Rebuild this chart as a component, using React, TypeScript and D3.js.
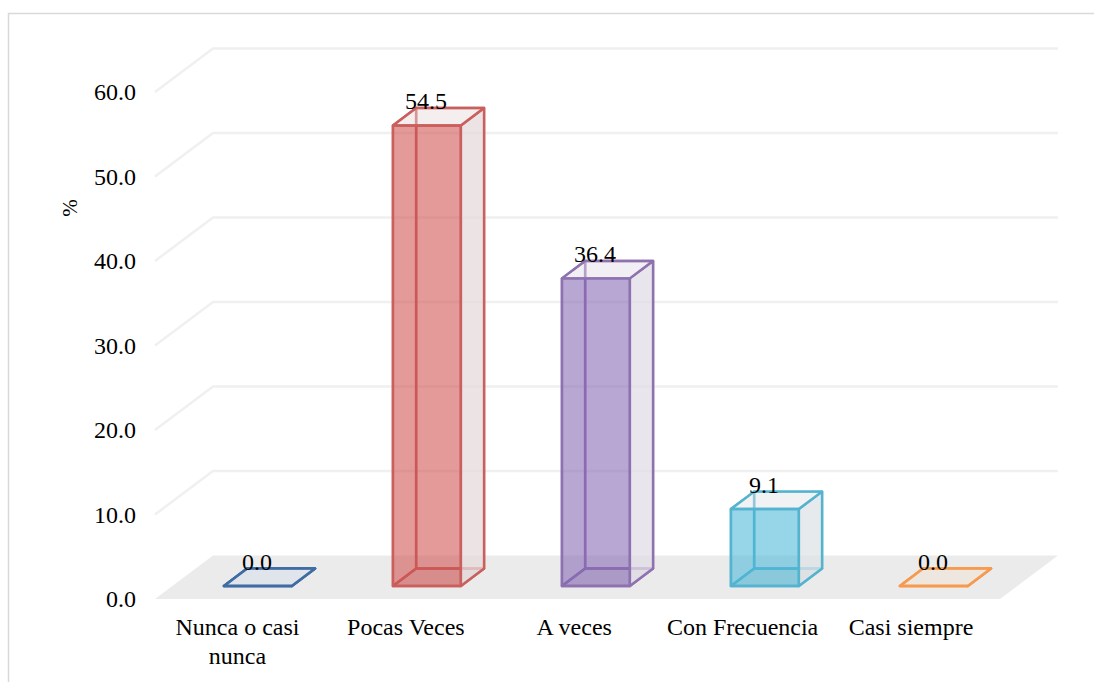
import React from "react";
import * as d3 from "d3";

const categories = ["Nunca o casi nunca", "Pocas Veces", "A veces", "Con Frecuencia", "Casi siempre"];
const categoryLines = [["Nunca o casi", "nunca"], ["Pocas Veces"], ["A veces"], ["Con Frecuencia"], ["Casi siempre"]];
const values = [0.0, 54.5, 36.4, 9.1, 0.0];
const strokeColors = ["#3f6da3", "#c9605e", "#8e72b0", "#54b3cf", "#f79a4f"];
const fillColors = ["#4f81bd", "#cf514f", "#8566b3", "#4cb7d7", "#f79646"];
const sideTints = ["#dfe3ec", "#e6dadb", "#e2dce6", "#dde3e6", "#eee6dd"];
const tickValues = [0, 10, 20, 30, 40, 50, 60];

const W = 1094;
const H = 682;
const FONT = "'Liberation Serif', 'Times New Roman', serif";
const FONT_SIZE = 24;

// oblique projection of the 3D plot box: depth 0 is the front edge of the floor, depth 1 the back wall
const DEPTH_X = 58;
const DEPTH_Y = -43.5;
const BAR_DEPTH_FRONT = 0.3;
const BAR_DEPTH_BACK = 0.7;
const FLOOR_LEFT = 155;
const FLOOR_RIGHT = 1000;

const x = d3.scaleBand<string>().domain(categories).range([FLOOR_LEFT + 1, FLOOR_RIGHT + 1]).paddingInner(0.598).paddingOuter(0.299);
const y = d3.scaleLinear().domain([0, 60]).range([599, 92]);
// category captions sit left of the bars, on a slightly tighter spacing
const captionX = d3.scalePoint<string>().domain(categories).range([237.5, 911]);

const project = (px: number, value: number, depth: number): [number, number] => [
  px + DEPTH_X * depth,
  y(value) + DEPTH_Y * depth,
];
const poly = (pts: [number, number][]) => d3.line()(pts) + "Z";

function Bar({ index }: { index: number }) {
  const cat = categories[index];
  const value = values[index];
  const color = strokeColors[index];
  const x0 = x(cat)!;
  const x1 = x0 + x.bandwidth();
  const f = BAR_DEPTH_FRONT;
  const b = BAR_DEPTH_BACK;
  const faces = {
    back: [project(x0, 0, b), project(x1, 0, b), project(x1, value, b), project(x0, value, b)],
    left: [project(x0, 0, f), project(x0, 0, b), project(x0, value, b), project(x0, value, f)],
    bottom: [project(x0, 0, f), project(x1, 0, f), project(x1, 0, b), project(x0, 0, b)],
    right: [project(x1, 0, f), project(x1, 0, b), project(x1, value, b), project(x1, value, f)],
    top: [project(x0, value, f), project(x1, value, f), project(x1, value, b), project(x0, value, b)],
    front: [project(x0, 0, f), project(x1, 0, f), project(x1, value, f), project(x0, value, f)],
  };
  const [lx, ly] = project((x0 + x1) / 2, value, b);
  const edge = { stroke: color, strokeWidth: 2.4, strokeLinejoin: "round" as const };
  const tall = value > 0;
  return (
    <g>
      <path d={poly(faces.back)} fill="#ffffff" fillOpacity={0} {...edge} />
      <path d={poly(faces.left)} fill="none" {...edge} />
      <path d={poly(faces.bottom)} fill={tall ? "#8a8a96" : sideTints[index]} fillOpacity={tall ? 0.12 : 0.8} {...edge} />
      <path d={poly(faces.right)} fill={sideTints[index]} fillOpacity={0.75} {...edge} />
      <path d={poly(faces.top)} fill={sideTints[index]} fillOpacity={0.45} {...edge} />
      <path d={poly(faces.front)} fill={fillColors[index]} fillOpacity={tall ? 0.58 : 0} {...edge} />
      <text x={lx - DEPTH_X * (b - f) - 1} y={ly + 1} textAnchor="middle" fontSize={FONT_SIZE} fill="#000">
        {d3.format(".1f")(value)}
      </text>
    </g>
  );
}

export default function App() {
  return (
    <svg
      width={W}
      height={H}
      viewBox={`0 0 ${W} ${H}`}
      style={{ position: "absolute", left: 0, top: 0, background: "#fff" }}
      fontFamily={FONT}
    >
      {/* chart frame, running off the top right and bottom left of the page */}
      <path d="M1094,13.5H8.5V682" fill="none" stroke="#d9d9d9" strokeWidth={1.5} />

      {/* gridlines run up the side wall, then along the back wall */}
      {tickValues.slice(1).map((t) => (
        <path
          key={t}
          d={d3.line()([project(FLOOR_LEFT, t, 0), project(FLOOR_LEFT, t, 1), project(FLOOR_RIGHT, t, 1)])!}
          fill="none"
          stroke="#f0f0f0"
          strokeWidth={2.5}
        />
      ))}

      <path
        d={poly([project(FLOOR_LEFT, 0, 0), project(FLOOR_RIGHT, 0, 0), project(FLOOR_RIGHT, 0, 1), project(FLOOR_LEFT, 0, 1)])}
        fill="#ebebeb"
      />

      {tickValues.map((t) => (
        <text key={t} x={136} y={y(t) + 8} textAnchor="end" fontSize={FONT_SIZE} fill="#000">
          {d3.format(".1f")(t)}
        </text>
      ))}

      <text transform="translate(77,208) rotate(-90)" textAnchor="middle" fontSize={21} fill="#000">
        %
      </text>

      {categories.map((c, i) => (
        <Bar key={c} index={i} />
      ))}

      {categories.map((c, i) => (
        <text key={c} y={635} textAnchor="middle" fontSize={FONT_SIZE} fill="#000">
          {categoryLines[i].map((line, k) => (
            <tspan key={line} x={captionX(c)} dy={k === 0 ? 0 : 28.5}>
              {line}
            </tspan>
          ))}
        </text>
      ))}
    </svg>
  );
}
